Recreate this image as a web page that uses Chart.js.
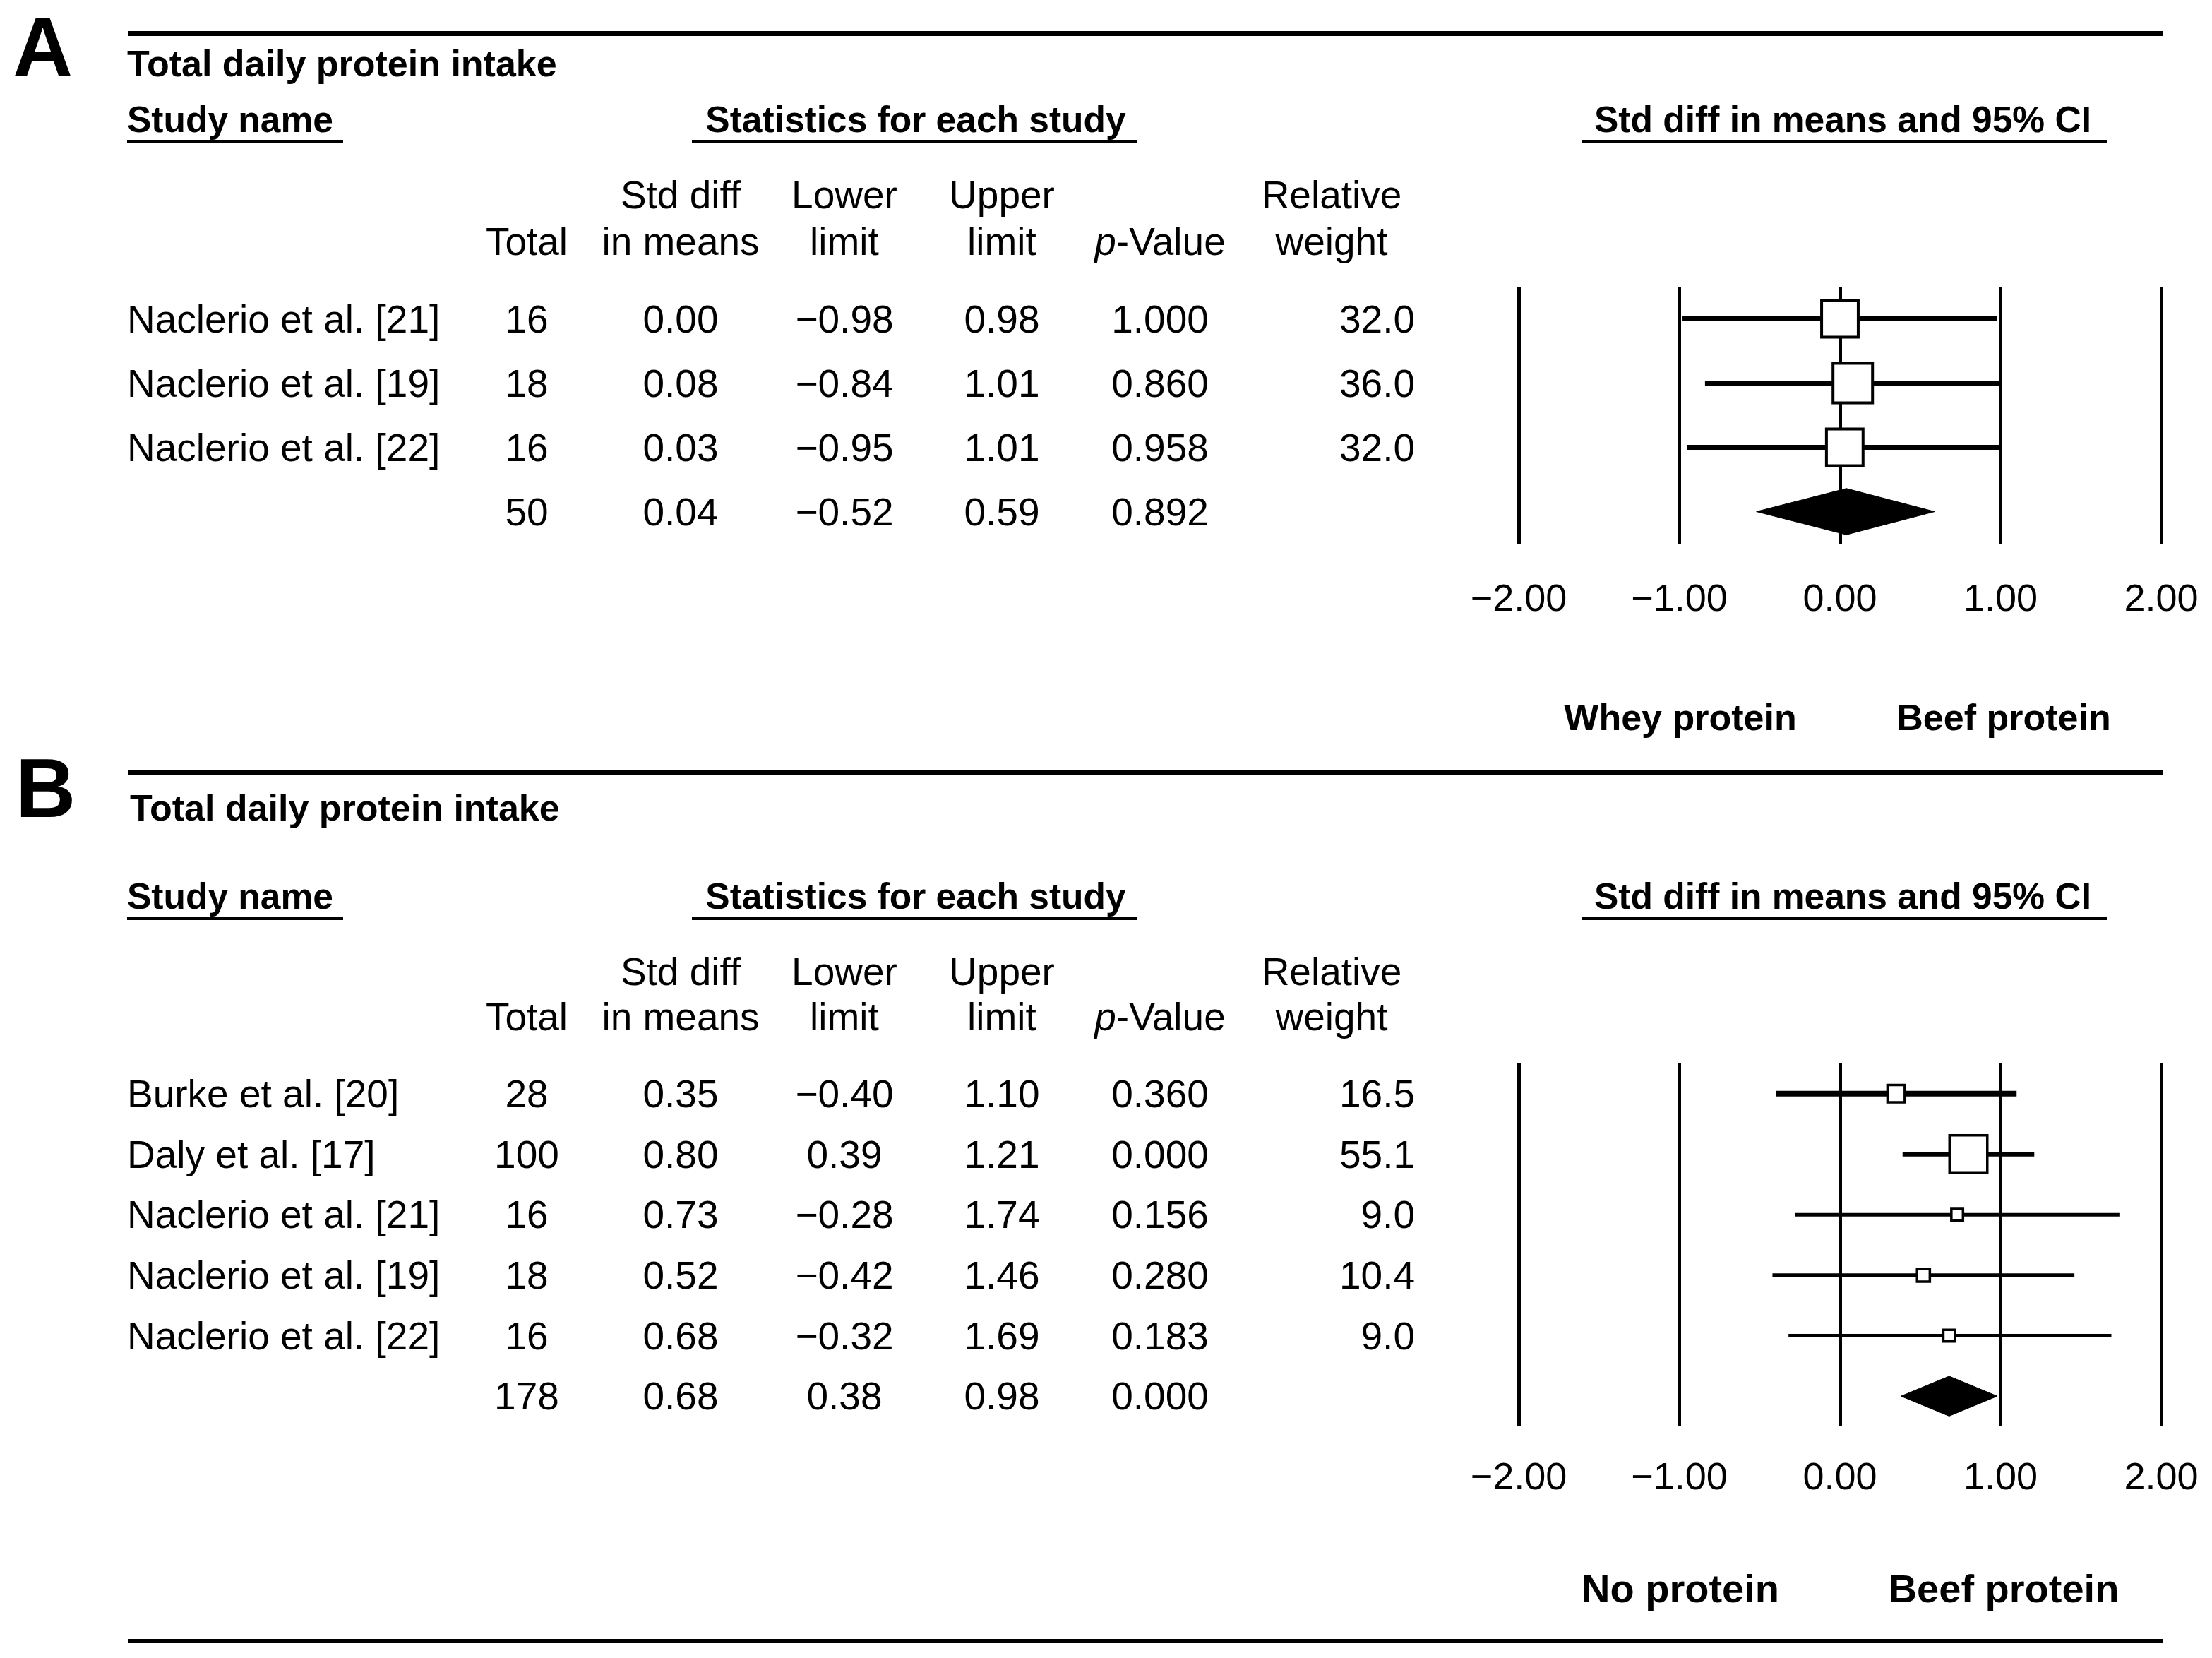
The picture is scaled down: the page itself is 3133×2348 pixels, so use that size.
<!DOCTYPE html>
<html>
<head>
<meta charset="utf-8">
<script src="https://cdn.jsdelivr.net/npm/chart.js@4.4.0/dist/chart.umd.min.js"></script>
<style>
html, body { margin: 0; padding: 0; background: #fff; }
body { width: 3133px; height: 2348px; position: relative; overflow: hidden;
       font-family: 'Liberation Sans', Arial, sans-serif; color: #000; }
.t { position: absolute; white-space: nowrap; line-height: 1; font-size: 55px; }
.b { font-weight: bold; font-size: 51.5px; }
.big { font-weight: bold; font-size: 118px; }
.rule { position: absolute; background: #000; }
canvas { position: absolute; }
</style>
</head>
<body>
<script>
// Panel A: beef vs whey protein
const studiesA = ['Naclerio et al. [21]', 'Naclerio et al. [19]', 'Naclerio et al. [22]'];
const totalA = [16, 18, 16, 50];
const smdA = [0.00, 0.08, 0.03, 0.04];
const lowerA = [-0.98, -0.84, -0.95, -0.52];
const upperA = [0.98, 1.01, 1.01, 0.59];
const pValueA = ['1.000', '0.860', '0.958', '0.892'];
const weightA = [32.0, 36.0, 32.0];

// Panel B: beef vs no protein
const studiesB = ['Burke et al. [20]', 'Daly et al. [17]', 'Naclerio et al. [21]', 'Naclerio et al. [19]', 'Naclerio et al. [22]'];
const totalB = [28, 100, 16, 18, 16, 178];
const smdB = [0.35, 0.80, 0.73, 0.52, 0.68, 0.68];
const lowerB = [-0.40, 0.39, -0.28, -0.42, -0.32, 0.38];
const upperB = [1.10, 1.21, 1.74, 1.46, 1.69, 0.98];
const pValueB = ['0.360', '0.000', '0.156', '0.280', '0.183', '0.000'];
const weightB = [16.5, 55.1, 9.0, 10.4, 9.0];

const xTicks = [-2, -1, 0, 1, 2];

const FONT = "'Liberation Sans', Arial, sans-serif";
const COL = { name: 180, total: 746, smd: 964, lower: 1196, upper: 1419, p: 1643, wHead: 1886, weight: 2004 };
const PLOT_L = 2151, PLOT_R = 3061;
const PAD_L = 80, PAD_T = 10, PAD_B = 10;

function fmt(v, d) {
    return v.toFixed(d).replace('-', '\u2212');
}

function text(x, y, html, cls, align, size) {
    const el = document.createElement('div');
    el.className = 't ' + (cls || '');
    el.innerHTML = html;
    el.style.left = x + 'px';
    el.style.top = y + 'px';
    if (size) el.style.fontSize = size + 'px';
    const tx = align === 'center' ? '-50%' : align === 'right' ? '-100%' : '0';
    el.style.transform = `translate(${tx}, -50%)`;
    document.body.appendChild(el);
}

function rule(x1, x2, y, h) {
    const el = document.createElement('div');
    el.className = 'rule';
    el.style.left = x1 + 'px';
    el.style.width = (x2 - x1) + 'px';
    el.style.top = (y - h / 2) + 'px';
    el.style.height = h + 'px';
    document.body.appendChild(el);
}

function panel(p) {
    const n = p.total.length;
    const rowH = (p.bottom - p.top) / n;
    const rowY = i => p.top + (i + 0.5) * rowH;

    // headings
    rule(181, 3064, p.ruleY, p.ruleH);
    text(p.letterX, p.letterY, p.letter, 'big');
    text(p.titleX, p.titleY, 'Total daily protein intake', 'b', '', 52);
    text(COL.name, p.groupY, 'Study name', 'b');
    text(1297, p.groupY, 'Statistics for each study', 'b', 'center');
    text(2610, p.groupY, 'Std diff in means and 95% CI', 'b', 'center');
    rule(180, 486, p.groupY + 30, 5);
    rule(980, 1610, p.groupY + 30, 5);
    rule(2240, 2984, p.groupY + 30, 5);

    text(COL.smd, p.head1, 'Std diff', '', 'center');
    text(COL.lower, p.head1, 'Lower', '', 'center');
    text(COL.upper, p.head1, 'Upper', '', 'center');
    text(COL.wHead, p.head1, 'Relative', '', 'center');
    text(COL.total, p.head2, 'Total', '', 'center');
    text(COL.smd, p.head2, 'in means', '', 'center');
    text(COL.lower, p.head2, 'limit', '', 'center');
    text(COL.upper, p.head2, 'limit', '', 'center');
    text(COL.p, p.head2, '<i>p</i>-Value', '', 'center');
    text(COL.wHead, p.head2, 'weight', '', 'center');

    // table rows
    for (let i = 0; i < n; i++) {
        const y = rowY(i);
        if (i < p.studies.length) {
            text(COL.name, y, p.studies[i]);
            text(COL.weight, y, p.weight[i].toFixed(1), '', 'right');
        }
        text(COL.total, y, String(p.total[i]), '', 'center');
        text(COL.smd, y, fmt(p.smd[i], 2), '', 'center');
        text(COL.lower, y, fmt(p.lower[i], 2), '', 'center');
        text(COL.upper, y, fmt(p.upper[i], 2), '', 'center');
        text(COL.p, y, p.pValue[i], '', 'center');
    }

    // favours labels
    text(2380, p.favY, p.favours[0], 'b', 'center', p.favSize);
    text(2838, p.favY, p.favours[1], 'b', 'center', p.favSize);

    // forest plot
    const s = p.studies.length;
    const wMax = Math.max(...p.weight);
    const datasets = [];
    datasets.push({
        data: p.studies.map((_, i) => ({ x: p.smd[i], y: i })),
        pointStyle: 'rect',
        pointRadius: ctx => p.boxMax * Math.pow(p.weight[ctx.dataIndex] / wMax, 0.65) / Math.SQRT2,
        backgroundColor: '#fff',
        borderColor: '#000',
        borderWidth: p.boxBorder
    });
    p.studies.forEach((_, i) => {
        datasets.push({
            showLine: true,
            data: [{ x: p.lower[i], y: i }, { x: p.upper[i], y: i }],
            borderColor: '#000',
            borderWidth: p.ciWidth[i],
            pointRadius: 0
        });
    });
    datasets.push({
        showLine: true,
        data: [
            { x: p.lower[s], y: s },
            { x: p.smd[s], y: s - p.dh },
            { x: p.upper[s], y: s },
            { x: p.smd[s], y: s + p.dh },
            { x: p.lower[s], y: s }
        ],
        fill: 'shape',
        backgroundColor: '#000',
        borderColor: '#000',
        borderWidth: 1,
        pointRadius: 0,
        tension: 0
    });

    const axisH = p.tickPad + 54 * 1.2;
    const cv = document.createElement('canvas');
    const w = 3133 - (PLOT_L - PAD_L);
    const areaH = p.bottom - p.top;
    cv.width = w;
    cv.height = Math.ceil(PAD_T + areaH + axisH + PAD_B);
    cv.style.left = (PLOT_L - PAD_L) + 'px';
    cv.style.top = (p.top - PAD_T) + 'px';
    document.body.appendChild(cv);

    new Chart(cv.getContext('2d'), {
        type: 'scatter',
        data: { datasets },
        options: {
            responsive: false,
            animation: false,
            events: [],
            devicePixelRatio: 1,
            layout: {
                autoPadding: false,
                padding: { left: PAD_L, right: w - PAD_L - (PLOT_R - PLOT_L), top: PAD_T, bottom: cv.height - PAD_T - areaH - axisH }
            },
            plugins: { legend: { display: false }, tooltip: { enabled: false } },
            scales: {
                x: {
                    type: 'linear',
                    min: xTicks[0],
                    max: xTicks[xTicks.length - 1],
                    border: { display: false },
                    grid: { color: '#000', lineWidth: 5, drawTicks: false },
                    afterBuildTicks: sc => { sc.ticks = xTicks.map(v => ({ value: v })); },
                    afterFit: sc => {
                        sc.height = axisH;
                        sc.paddingLeft = 0;
                        sc.paddingRight = 0;
                    },
                    ticks: {
                        color: '#000',
                        padding: p.tickPad,
                        autoSkip: false,
                        maxRotation: 0,
                        font: { size: 54, family: FONT },
                        callback: v => fmt(v, 2)
                    }
                },
                y: { type: 'linear', reverse: true, min: -0.5, max: n - 0.5, display: false }
            }
        }
    });
}

panel({
    letter: 'A', letterX: 18, letterY: 67,
    ruleY: 47, ruleH: 7,
    titleX: 180, titleY: 90,
    groupY: 170, head1: 276, head2: 342,
    top: 406, bottom: 770, tickPad: 48, favY: 1016, favSize: 52,
    favours: ['Whey protein', 'Beef protein'],
    studies: studiesA, total: totalA, smd: smdA, lower: lowerA, upper: upperA,
    pValue: pValueA, weight: weightA,
    boxMax: 56, boxBorder: 4, dh: 0.36, ciWidth: [7, 7, 7]
});

panel({
    letter: 'B', letterX: 22, letterY: 1116,
    ruleY: 1094, ruleH: 6,
    titleX: 184, titleY: 1144,
    groupY: 1270, head1: 1376, head2: 1440,
    top: 1506, bottom: 2020, tickPad: 42, favY: 2250, favSize: 56,
    favours: ['No protein', 'Beef protein'],
    studies: studiesB, total: totalB, smd: smdB, lower: lowerB, upper: upperB,
    pValue: pValueB, weight: weightB,
    boxMax: 53.5, boxBorder: 3.5, dh: 0.33, ciWidth: [8, 6.5, 5, 5, 5]
});

rule(181, 3064, 2324, 6);
</script>
</body>
</html>
